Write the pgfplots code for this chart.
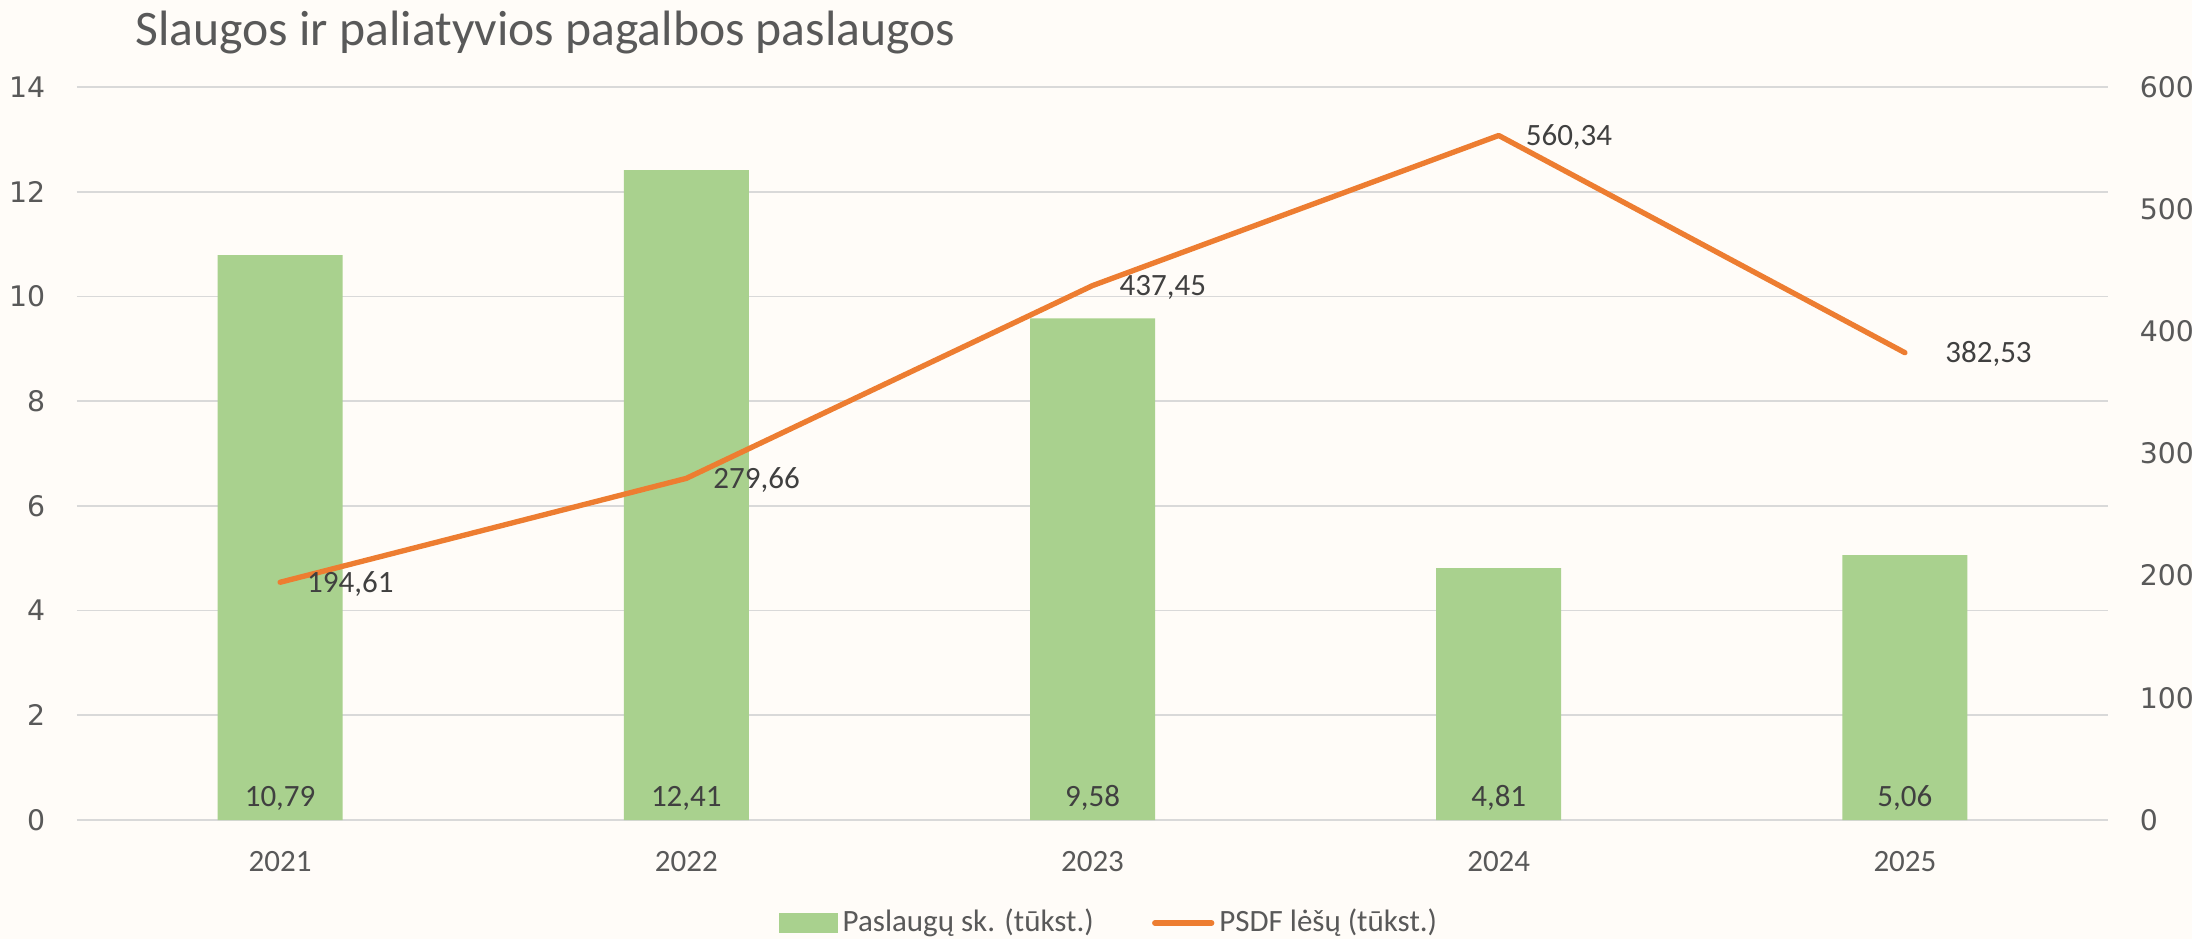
\documentclass[border=0pt]{standalone}
\usepackage{pgfplots}
\pgfplotsset{compat=1.18}
\usepackage{pgfplotstable}
\usepackage{fontspec}
\setmainfont{Carlito}
\newfontfamily\dejavu{DejaVu Sans}

\definecolor{bg}{HTML}{FFFCF8}
\definecolor{barg}{HTML}{A9D18E}
\definecolor{lineo}{HTML}{ED7D31}
\definecolor{txt}{HTML}{595959}
\definecolor{lbl}{HTML}{404040}
\definecolor{grd}{HTML}{D9D9D9}

% year, services (thousand), PSDF funds (thousand), label shift
\pgfplotstableread{
x  bar    line    dx
0  10.79  194.61   4
1  12.41  279.66   4
2  9.58   437.45   4
3  4.81   560.34   4
4  5.06   382.53   8
}\data

\begin{document}
\begin{tikzpicture}
\fill[bg] (0,0) rectangle (657.6pt,281.7pt);

\node[anchor=base west, inner sep=0pt, text=txt, font=\fontsize{14.9}{17}\selectfont] at (40.5pt,267.9pt)
  {Slaugos ir paliatyvios pagalbos paslaugos};

\pgfplotsset{
  base/.style={
    at={(23.1pt,35.7pt)}, anchor=south west,
    scale only axis, width=609.3pt, height=219.9pt,
    xmin=-0.5, xmax=4.5,
    major tick length=0pt,
    axis line style={draw=none},
    tick label style={font=\dejavu\fontsize{8.5}{10}\selectfont, text=txt},
    /pgf/number format/assume math mode=true,
  }
}

\begin{axis}[base,
  ymin=0, ymax=14, ytick={0,2,...,14},
  ymajorgrids, grid style={grd, line width=0.5pt},
  yticklabel style={xshift=-6pt},
  xtick=data, xticklabels={2021,2022,2023,2024,2025},
  xticklabel style={font=\fontsize{9.3}{11}\selectfont, yshift=-6pt},
  legend style={draw=none, fill=none, at={(0.509,-0.1405)}, anchor=center,
    font=\fontsize{9.3}{11}\selectfont, text=txt, legend columns=2,
    nodes={inner xsep=1.5pt},
    /tikz/every even column/.append style={column sep=16pt}},
  legend cell align=left,
]
\addplot[ybar, bar width=37.5pt, bar shift=0pt, fill=barg, draw=none, forget plot]
  table[x=x, y=bar] {\data};
\addlegendimage{area legend, fill=barg, draw=barg}
\addlegendentry{Paslaugų sk. (tūkst.)}
\addlegendimage{lineo, line width=1.6pt, line cap=round}
\addlegendentry{PSDF lėšų (tūkst.)}
\addplot[draw=none, mark=none, forget plot, nodes near coords, point meta=explicit,
  nodes near coords style={anchor=south, yshift=-0.7pt, text=lbl, inner xsep=3.33pt,
    font=\fontsize{9.3}{11}\selectfont,
    /pgf/number format/.cd, fixed, fixed zerofill, precision=2, use comma}]
  table[x=x, y expr=0, meta=bar] {\data};
\end{axis}

\begin{axis}[base,
  ymin=0, ymax=600, ytick={0,100,...,600},
  axis y line*=right, axis x line=none,
  yticklabel style={xshift=6pt},
]
\addplot[lineo, line width=1.6pt, line join=round, line cap=round, mark=none,
  nodes near coords, point meta=explicit,
  visualization depends on={\thisrow{dx} \as \dx},
  nodes near coords style={anchor=west, xshift=\dx pt, yshift=-0.5pt, text=lbl,
    font=\fontsize{9.3}{11}\selectfont,
    /pgf/number format/.cd, fixed, fixed zerofill, precision=2, use comma}]
  table[x=x, y=line, meta=line] {\data};
\end{axis}

\pgfresetboundingbox
\useasboundingbox (0,0) rectangle (657.6pt,281.7pt);
\end{tikzpicture}
\end{document}
